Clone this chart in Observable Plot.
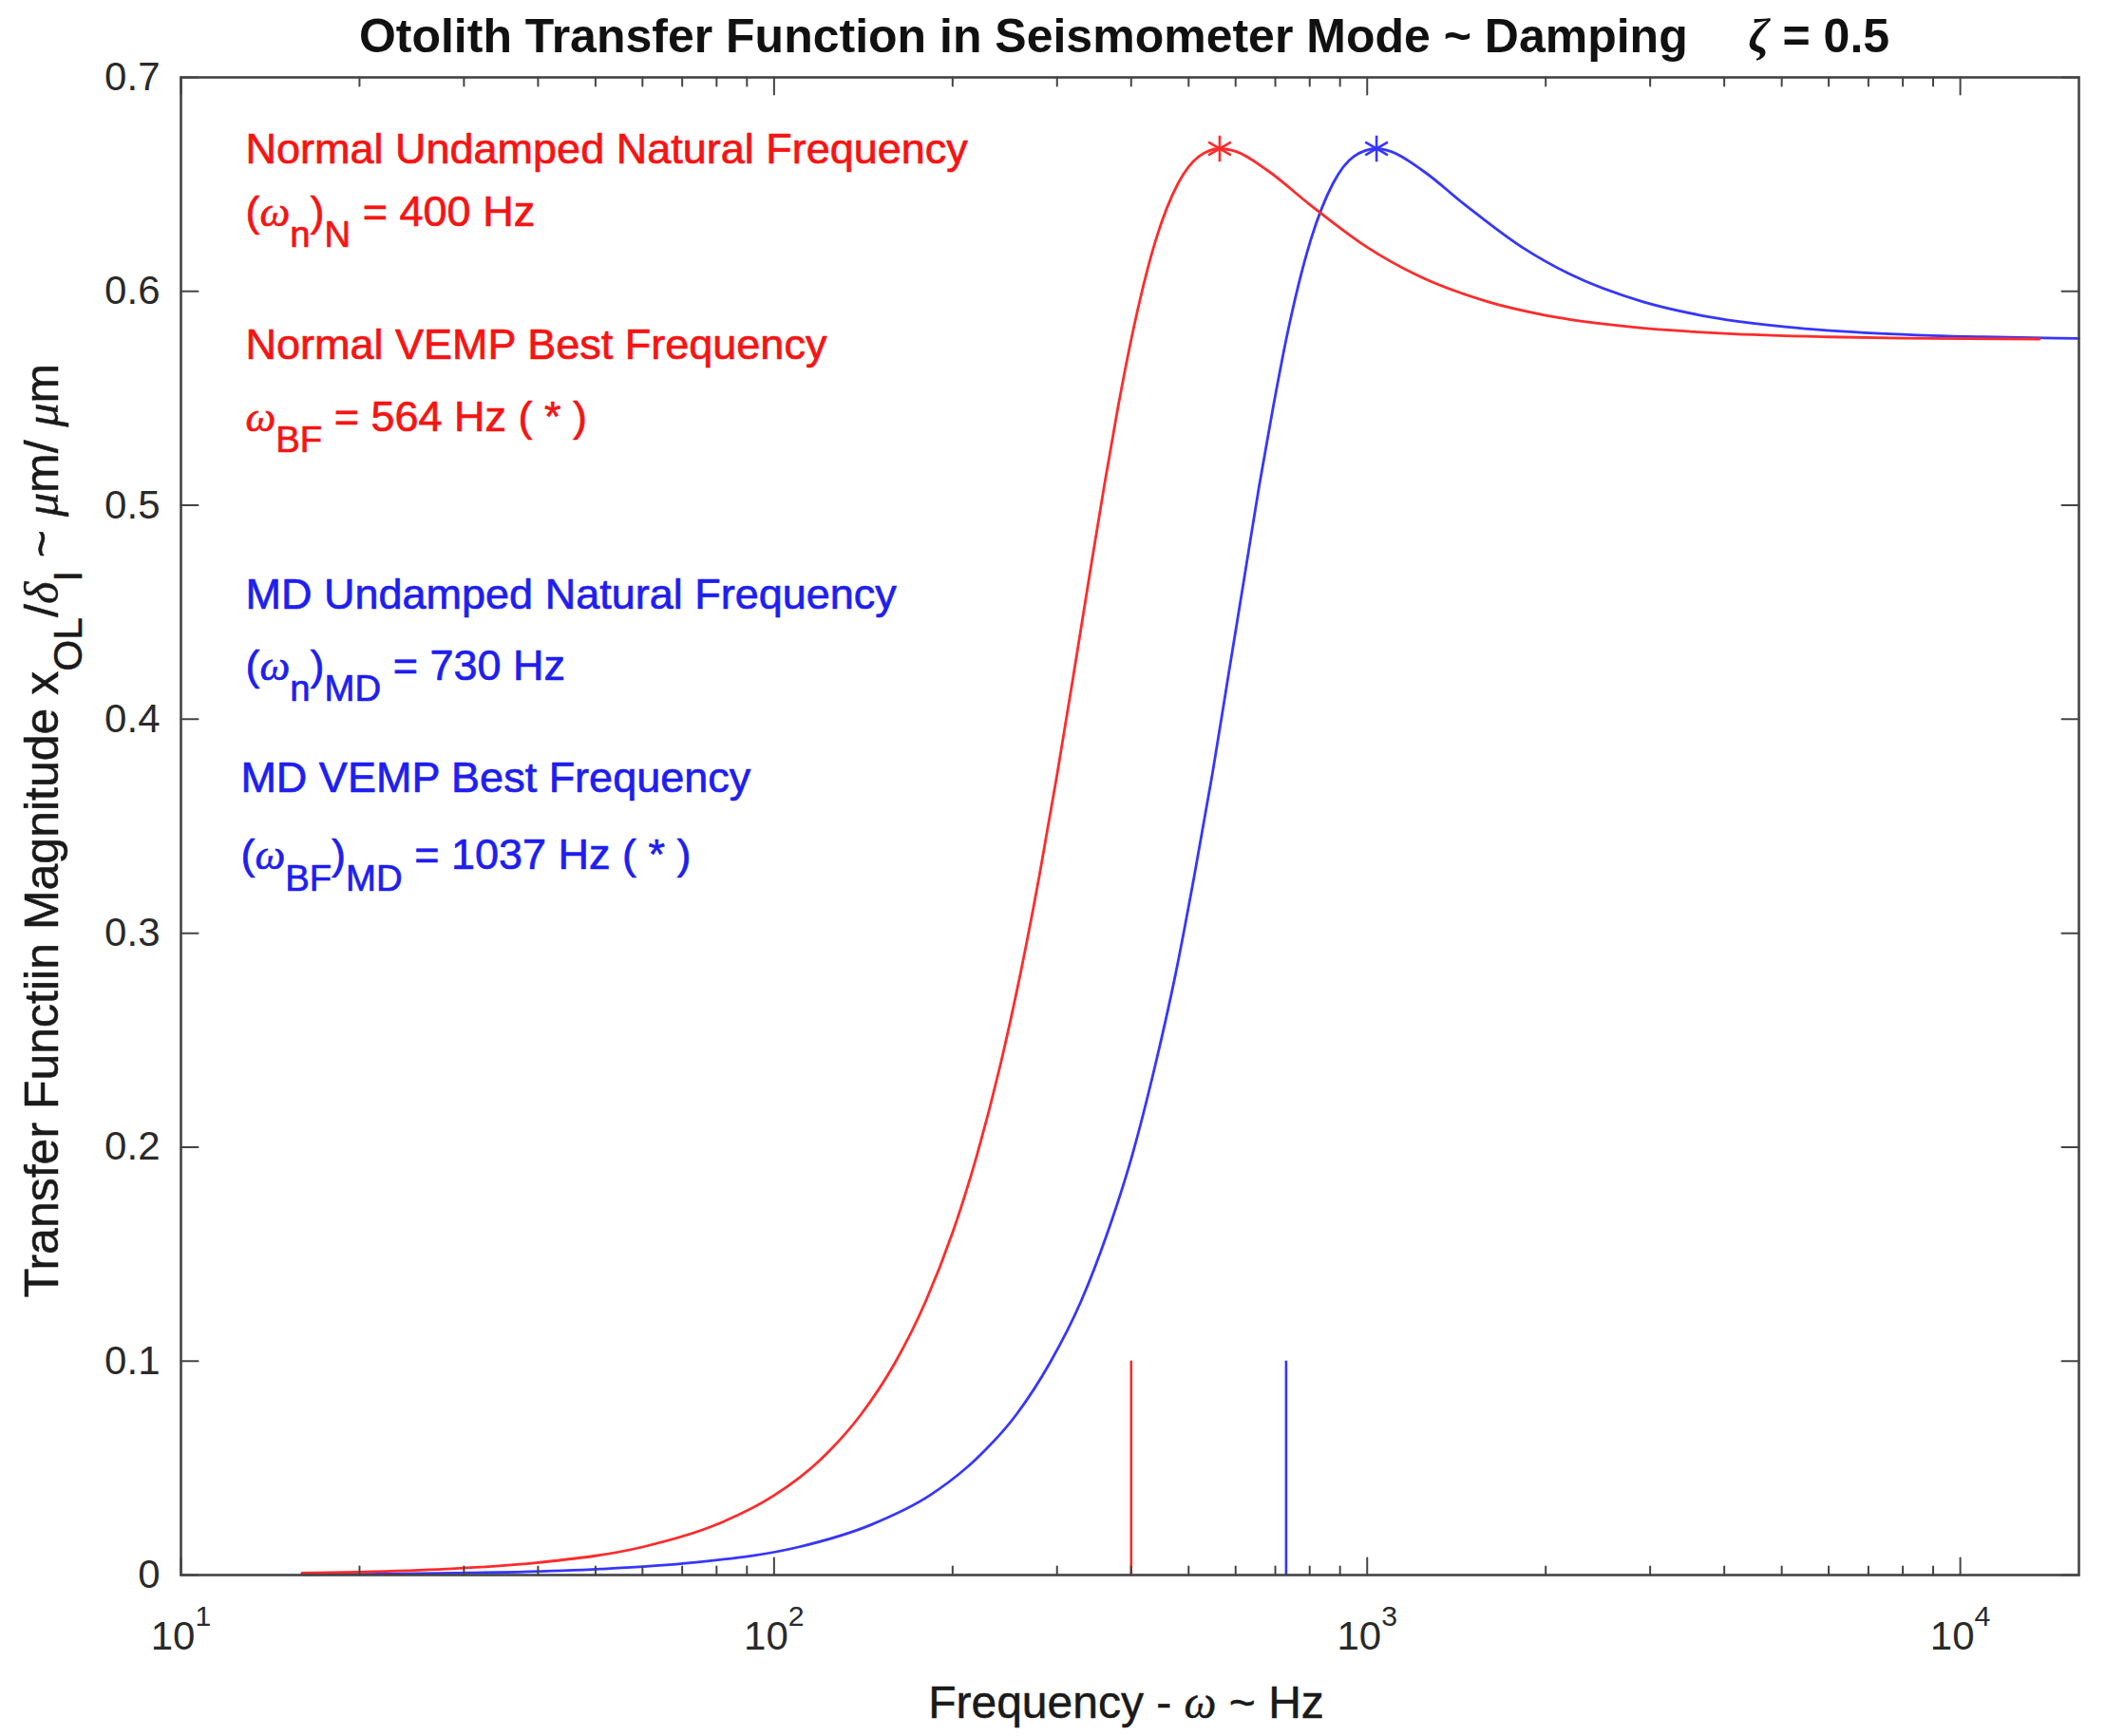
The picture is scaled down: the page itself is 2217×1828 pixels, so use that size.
<!DOCTYPE html>
<html>
<head>
<meta charset="utf-8">
<script src="https://cdn.jsdelivr.net/npm/d3@7"></script>
<script src="https://cdn.jsdelivr.net/npm/@observablehq/plot@0.6"></script>
<style>
html, body { margin: 0; padding: 0; background: #fff; }
#chart svg text { white-space: pre; }
</style>
</head>
<body>
<div id="chart"></div>
<script>
// ---- data ----
const normalFreq = [16,20,28,40,60,80,100,120,140,160,180,200,220,240,260,280,300,320,340,360,380,400,440,480,520,564,600,680,800,1000,1200,1600,2000,2800,4000,6000,8000,13600];
const normalMag = [0.0009,0.0014,0.0028,0.0058,0.0131,0.0236,0.0372,0.0542,0.0749,0.0993,0.1277,0.1601,0.1966,0.2369,0.2806,0.3267,0.3741,0.4212,0.4666,0.5085,0.5457,0.5774,0.6239,0.6505,0.6630,0.6667,0.6654,0.6564,0.6406,0.6206,0.6082,0.5951,0.5888,0.5833,0.5803,0.5787,0.5781,0.5777];

const mdFreq = [16,20,29,37,51,73,110,146,183,219,256,292,329,365,402,438,475,511,548,584,621,657,694,730,803,876,949,1037,1095,1241,1460,1825,2190,2920,3650,5110,7300,10950,14600,15850];
const mdMag = [0.0003,0.0004,0.0009,0.0014,0.0028,0.0058,0.0131,0.0236,0.0372,0.0542,0.0749,0.0993,0.1277,0.1601,0.1966,0.2369,0.2806,0.3267,0.3741,0.4212,0.4666,0.5085,0.5457,0.5774,0.6239,0.6505,0.6630,0.6667,0.6654,0.6564,0.6406,0.6206,0.6082,0.5951,0.5888,0.5833,0.5803,0.5787,0.5781,0.5780];

const groups = ["Normal", "MD"];
const bestFreq = [564, 1037];
const bestMag = [0.6667, 0.6667];
const naturalFreq = [400, 730];
const naturalMarkerTop = 0.1;

const xDomain = [10, 15850];
const yDomain = [0, 0.7];
const xMajorTicks = [10, 100, 1000, 10000];
const xMinorTicks = [20,30,40,50,60,70,80,90,200,300,400,500,600,700,800,900,2000,3000,4000,5000,6000,7000,8000,9000];
const yTicks = [0, 0.1, 0.2, 0.3, 0.4, 0.5, 0.6, 0.7];
const yTickLabels = ["0", "0.1", "0.2", "0.3", "0.4", "0.5", "0.6", "0.7"];

const titleText = "Otolith Transfer Function in Seismometer Mode ~ Damping\u2003 *{ζ} = 0.5";
const xLabelText = "Frequency - *{ω} ~ Hz";
const yLabelText = "Transfer Functiin Magnitude x_{OL}/*{δ}_{I} ~ *{μ}m/ *{μ}m";

const noteTexts = [
  "Normal Undamped Natural Frequency",
  "(*{ω}_{n})_{N} = 400 Hz",
  "Normal VEMP Best Frequency",
  "*{ω}_{BF} = 564 Hz ( * )",
  "MD Undamped Natural Frequency",
  "(*{ω}_{n})_{MD} = 730 Hz",
  "MD VEMP Best Frequency",
  "(*{ω}_{BF})_{MD} = 1037 Hz ( * )"
];
const noteGroup = ["Normal","Normal","Normal","Normal","MD","MD","MD","MD"];
const noteFreq = [12.85, 12.85, 12.85, 12.85, 12.85, 12.85, 12.61, 12.61];
const noteMag = [0.6600, 0.6307, 0.5685, 0.5348, 0.4517, 0.4184, 0.3660, 0.3300];

// ---- styles ----
const lineColor = {Normal: "#ff2b2b", MD: "#3636ff"};
const textColor = {Normal: "#f51414", MD: "#1e1ef0"};
const axisColor = "#444";
const labelColor = "#1a1a1a";

// ---- tables built from the arrays ----
const normalRows = normalFreq.map((f, i) => ({f, m: normalMag[i]}));
const mdRows = mdFreq.map((f, i) => ({f, m: mdMag[i]}));
const peakRows = groups.map((g, i) => ({g, f: bestFreq[i], m: bestMag[i]}));
const naturalRows = groups.map((g, i) => ({g, f: naturalFreq[i]}));
const noteRows = noteTexts.map((t, i) => ({t, g: noteGroup[i], f: noteFreq[i], m: noteMag[i]}));

const tickShape = {draw(ctx, l) { ctx.moveTo(0, 0); ctx.lineTo(0, -l); }};
const tickOpts = {anchor: "start", shape: tickShape, stroke: axisColor, strokeWidth: 2};

const chart = Plot.plot({
  width: 2217,
  height: 1828,
  marginLeft: 190,
  marginRight: 29,
  marginTop: 81,
  marginBottom: 170,
  style: {fontFamily: "'Liberation Sans', Arial, sans-serif", background: "#fff", color: "#1a1a1a"},
  x: {type: "log", domain: xDomain},
  y: {domain: yDomain},
  marks: [
    Plot.line(mdRows, {x: "f", y: "m", stroke: lineColor.MD, strokeWidth: 2.8, curve: "monotone-x"}),
    Plot.line(normalRows, {x: "f", y: "m", stroke: lineColor.Normal, strokeWidth: 2.8, curve: "monotone-x"}),
    Plot.ruleX(naturalRows, {x: "f", y1: 0, y2: naturalMarkerTop, stroke: d => lineColor[d.g], strokeWidth: 2.6}),
    Plot.dot(peakRows, {x: "f", y: "m", symbol: "asterisk", r: 13, stroke: d => lineColor[d.g], strokeWidth: 2.6}),
    // inward ticks, MATLAB style
    Plot.vector(xMajorTicks, {x: d => d, y: yDomain[0], rotate: 0, length: 18, ...tickOpts}),
    Plot.vector(xMajorTicks, {x: d => d, y: yDomain[1], rotate: 180, length: 18, ...tickOpts}),
    Plot.vector(xMinorTicks, {x: d => d, y: yDomain[0], rotate: 0, length: 9, ...tickOpts}),
    Plot.vector(xMinorTicks, {x: d => d, y: yDomain[1], rotate: 180, length: 9, ...tickOpts}),
    Plot.vector(yTicks, {x: xDomain[0], y: d => d, rotate: 90, length: 18, ...tickOpts}),
    Plot.vector(yTicks, {x: xDomain[1], y: d => d, rotate: -90, length: 18, ...tickOpts}),
    Plot.frame({stroke: axisColor, strokeWidth: 2.6}),
    Plot.axisY(yTicks, {anchor: "left", tickSize: 0, tickPadding: 22, fontSize: 42, label: null, fill: "#2a2a2a",
      tickFormat: d => yTickLabels[yTicks.indexOf(d)]}),
    Plot.axisX(xMajorTicks, {anchor: "bottom", tickSize: 0, tickPadding: 49, fontSize: 42, label: null, fill: "#2a2a2a",
      tickFormat: d => `10^{${Math.round(Math.log10(d))}}`}),
    Plot.text([titleText], {text: d => d, frameAnchor: "top", textAnchor: "middle", lineAnchor: "bottom", dx: -6, dy: -27,
      fontSize: 50, fontWeight: "bold", fill: "#111"}),
    Plot.text([xLabelText], {text: d => d, frameAnchor: "bottom", textAnchor: "middle", lineAnchor: "bottom", dx: -4, dy: 150,
      fontSize: 48, fill: labelColor, stroke: labelColor, strokeWidth: 0.5, letterSpacing: 4.8}),
    Plot.text([yLabelText], {text: d => d, frameAnchor: "left", textAnchor: "middle", rotate: -90, lineAnchor: "bottom", dx: -130, dy: 4.5,
      fontSize: 50, fill: labelColor, stroke: labelColor, strokeWidth: 0.5, letterSpacing: 3.6}),
    Plot.text(noteRows, {x: "f", y: "m", text: "t", fill: d => textColor[d.g], stroke: d => textColor[d.g], strokeWidth: 0.7,
      textAnchor: "start", lineAnchor: "bottom", fontSize: 45, letterSpacing: 2})
  ]
});

document.getElementById("chart").appendChild(chart);

// ---- turn simple markup into sub/superscripts and italic symbols ----
const SVGNS = "http://www.w3.org/2000/svg";
function richText(el) {
  const s = el.textContent;
  if (!/[_^*]\{/.test(s)) return;
  const fs = parseFloat(getComputedStyle(el).fontSize) || 40;
  const parts = s.split(/([_^*]\{[^}]*\})/);
  el.textContent = "";
  let shift = 0;
  for (const p of parts) {
    if (!p) continue;
    const t = document.createElementNS(SVGNS, "tspan");
    let target = 0, content = p;
    const m = p.match(/^([_^*])\{([^}]*)\}$/);
    if (m) {
      content = m[2];
      if (m[1] === "_") {
        target = 0.5 * fs;
        t.setAttribute("font-size", (0.85 * fs).toFixed(1));
      } else if (m[1] === "^") {
        target = -0.6 * fs;
        t.setAttribute("font-size", (0.72 * fs).toFixed(1));
      } else {
        t.setAttribute("font-family", "'Liberation Serif', 'DejaVu Serif', serif");
        t.setAttribute("font-style", "italic");
      }
    }
    if (target !== shift) t.setAttribute("dy", (target - shift).toFixed(1));
    shift = target;
    t.textContent = content;
    el.appendChild(t);
  }
}
document.querySelectorAll("#chart svg text").forEach(richText);
</script>
</body>
</html>
